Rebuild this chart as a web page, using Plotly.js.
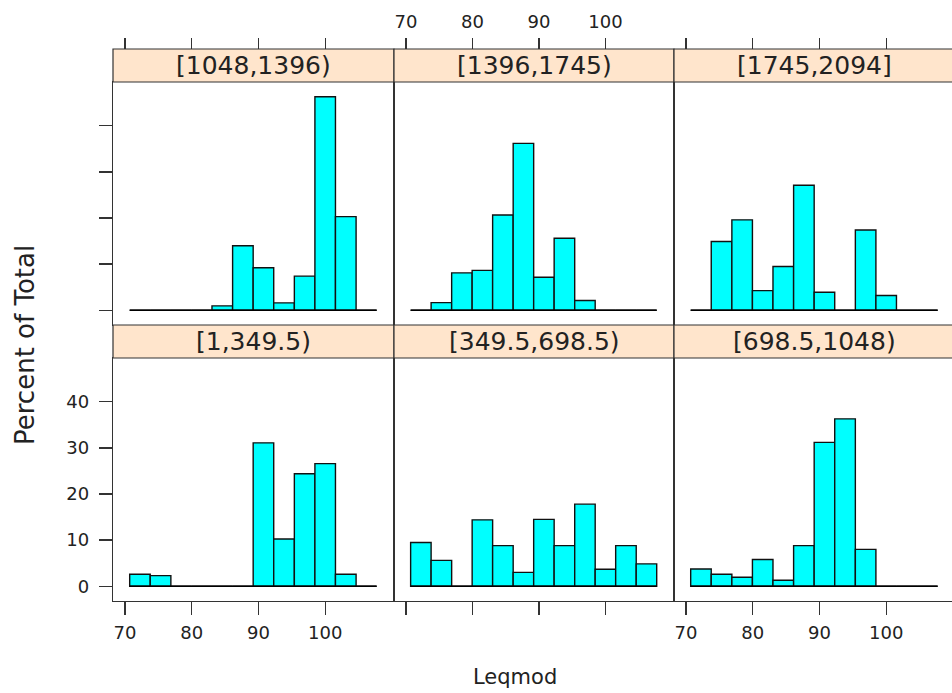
<!DOCTYPE html>
<html>
<head>
<meta charset="utf-8">
<script src="https://cdn.plot.ly/plotly-3.0.1.min.js"></script>
<style>
html,body{margin:0;padding:0;overflow:hidden;background:#fff;}
#chart{width:960px;height:693px;}
</style>
</head>
<body>
<div id="chart"></div>
<script>
// ---- data ----
const breaks = [70.7, 73.78, 76.87, 79.95, 83.03, 86.12, 89.2, 92.28, 95.37, 98.45, 101.53, 104.62, 107.7];
const panelLabels = ["[1,349.5)", "[349.5,698.5)", "[698.5,1048)", "[1048,1396)", "[1396,1745)", "[1745,2094]"];
const pct1 = [2.6, 2.3, 0, 0, 0, 0, 31.1, 10.25, 24.4, 26.6, 2.6, 0];
const pct2 = [9.5, 5.6, 0, 14.4, 8.8, 3.0, 14.5, 8.8, 17.8, 3.7, 8.8, 4.85];
const pct3 = [3.75, 2.6, 1.95, 5.8, 1.3, 8.8, 31.2, 36.3, 8.0, 0, 0, 0];
const pct4 = [0, 0, 0, 0, 0.95, 14.0, 9.2, 1.6, 7.4, 46.3, 20.3, 0];
const pct5 = [0, 1.65, 8.1, 8.65, 20.65, 36.2, 7.15, 15.6, 2.1, 0, 0, 0];
const pct6 = [0, 14.9, 19.6, 4.25, 9.5, 27.1, 3.9, 0, 17.4, 3.2, 0, 0];
const xTicks = [70, 80, 90, 100];
const yTicks = [0, 10, 20, 30, 40];
const xTitle = "Leqmod";
const yTitle = "Percent of Total";

// ---- layout geometry ----
const W = 960, H = 693;
const colPx = [[113, 394], [394, 674], [674, 955]];
const rowPx = { bottom: [358, 601], top: [82, 325] };   // panel top,bottom (px)
const stripH = 33;
const xRange = [68.2, 110.3];
const yRange = [-3.2, 49.5];
const FONT = "DejaVu Sans, Verdana, sans-serif";
const AX = "#333333";
const TICKFONT = { family: FONT, size: 18, color: "#222" };

const fx = p => p / W;
const fy = p => 1 - p / H;

const all = [pct1, pct2, pct3, pct4, pct5, pct6];
const mids = [], widths = [];
for (let i = 0; i < breaks.length - 1; i++) {
  mids.push((breaks[i] + breaks[i + 1]) / 2);
  widths.push(breaks[i + 1] - breaks[i]);
}

const traces = [];
const layout = {
  width: W, height: H,
  margin: { l: 0, r: 0, t: 0, b: 0 },
  paper_bgcolor: "#fff", plot_bgcolor: "#fff",
  showlegend: false, bargap: 0,
  font: { family: FONT, color: "#222", size: 18 },
  shapes: [], annotations: []
};

for (let k = 0; k < 6; k++) {
  const col = k % 3;
  const isTop = k >= 3;
  const rp = isTop ? rowPx.top : rowPx.bottom;
  const xa = k === 0 ? "x" : "x" + (k + 1);
  const ya = k === 0 ? "y" : "y" + (k + 1);
  const xk = k === 0 ? "xaxis" : "xaxis" + (k + 1);
  const yk = k === 0 ? "yaxis" : "yaxis" + (k + 1);

  // baseline for empty bins
  traces.push({
    type: "scatter", mode: "lines", xaxis: xa, yaxis: ya,
    x: [breaks[0], breaks[breaks.length - 1]], y: [0, 0],
    line: { color: "#000", width: 1.5 }, hoverinfo: "skip"
  });
  traces.push({
    type: "bar", xaxis: xa, yaxis: ya,
    x: mids, y: all[k], width: widths,
    marker: { color: "#00FFFF", line: { color: "#111", width: 1.4 } },
    hoverinfo: "skip"
  });

  const bottomLabels = !isTop && col !== 1;
  layout[xk] = {
    domain: [fx(colPx[col][0]), fx(colPx[col][1])],
    anchor: ya, range: xRange, fixedrange: true,
    showgrid: false, zeroline: false,
    showline: true, mirror: true, linecolor: AX, linewidth: 1.2,
    ticks: isTop ? "" : "outside", ticklen: 13, tickwidth: 1.3, tickcolor: AX,
    tickvals: xTicks, showticklabels: bottomLabels, ticklabelstandoff: 2,
    tickfont: TICKFONT
  };
  layout[yk] = {
    domain: [fy(rp[1]), fy(rp[0])],
    anchor: xa, range: yRange, fixedrange: true,
    showgrid: false, zeroline: false,
    showline: true, mirror: true, linecolor: AX, linewidth: 1.2,
    ticks: col === 0 ? "outside" : "", ticklen: 13, tickwidth: 1.3, tickcolor: AX,
    tickvals: yTicks, showticklabels: col === 0 && !isTop, ticklabelstandoff: 6,
    tickfont: TICKFONT
  };

  // strip
  const sTop = rp[0] - stripH, sBot = rp[0];
  layout.shapes.push({
    type: "rect", xref: "paper", yref: "paper",
    x0: fx(colPx[col][0]), x1: fx(colPx[col][1]), y0: fy(sBot), y1: fy(sTop),
    fillcolor: "#FFE5CC", line: { color: AX, width: 1.2 }, layer: "above"
  });
  layout.annotations.push({
    xref: "paper", yref: "paper", showarrow: false,
    x: fx((colPx[col][0] + colPx[col][1]) / 2), y: fy((sTop + sBot) / 2),
    xanchor: "center", yanchor: "middle",
    text: panelLabels[k], font: { family: FONT, size: 25, color: "#222" }
  });

  // top ticks above the top strip
  if (isTop) {
    const n = 7 + col;
    const xo = "x" + n;
    layout["xaxis" + n] = {
      domain: [fx(colPx[col][0]), fx(colPx[col][1])],
      overlaying: xa, anchor: "free", position: fy(rp[0] - stripH), side: "top",
      range: xRange, fixedrange: true, showgrid: false, zeroline: false, showline: false,
      ticks: "outside", ticklen: 11, tickwidth: 1.3, tickcolor: AX,
      tickvals: xTicks, showticklabels: col === 1, ticklabelstandoff: 3,
      tickfont: TICKFONT
    };
    traces.push({ type: "scatter", mode: "markers", xaxis: xo, yaxis: ya, x: [null], y: [null], hoverinfo: "skip" });
  }
}

layout.annotations.push({
  xref: "paper", yref: "paper", showarrow: false,
  x: fx(25), y: fy(345), xanchor: "center", yanchor: "middle", textangle: -90,
  text: yTitle, font: { family: FONT, size: 26, color: "#222" }
});
layout.annotations.push({
  xref: "paper", yref: "paper", showarrow: false,
  x: fx(515), y: fy(677), xanchor: "center", yanchor: "middle",
  text: xTitle, font: { family: FONT, size: 21, color: "#222" }
});

Plotly.newPlot("chart", traces, layout, { displayModeBar: false, staticPlot: true });
</script>
</body>
</html>
